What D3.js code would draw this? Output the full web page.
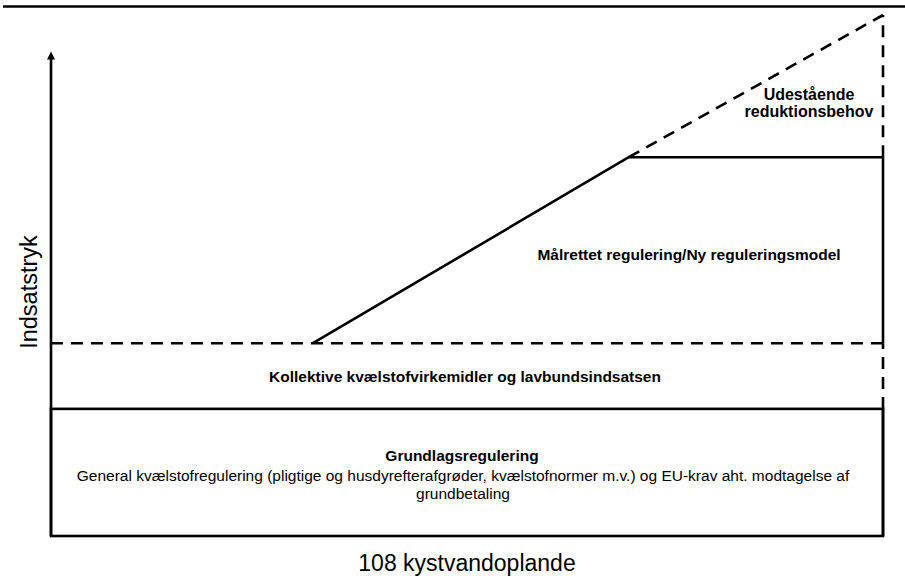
<!DOCTYPE html>
<html lang="da">
<head>
<meta charset="utf-8">
<title>Indsatstryk - 108 kystvandoplande</title>
<script src="https://cdn.jsdelivr.net/npm/d3@7"></script>
<style>
  body { margin: 0; background: #fff; }
  text { font-family: "Liberation Sans", Arial, Helvetica, sans-serif; fill: #000; }
  .bold { font-weight: bold; }
</style>
</head>
<body>
<script>
// x: the 108 kystvandoplande, y: indsatstryk (0-100)
var kystX       = [0, 34, 75, 108];
var grundlag    = [24.4, 24.4, 24.4, 24.4];
var kollektiv   = [37, 37, 37, 37];
var maalrettet  = [null, 37, 72.7, 72.7];
var udestaaende = [null, null, 72.7, 100];
var axisTop = 93;

var xTitle = "108 kystvandoplande";
var yTitle = "Indsatstryk";
var udestaaendeLabel = ["Udestående", "reduktionsbehov"];
var maalrettetLabel = "Målrettet regulering/Ny reguleringsmodel";
var kollektivLabel = "Kollektive kvælstofvirkemidler og lavbundsindsatsen";
var grundlagTitle = "Grundlagsregulering";
var grundlagText = [
  "General kvælstofregulering (pligtige og husdyrefterafgrøder, kvælstofnormer m.v.) og EU-krav aht. modtagelse af",
  "grundbetaling"
];

var width = 905, height = 588;
var lw = 2.6;          // line width
var dash = "12,8";

var svg = d3.select("body").append("svg")
    .attr("width", width)
    .attr("height", height);

var x = d3.scaleLinear().domain([0, 108]).range([51, 883]);
var y = d3.scaleLinear().domain([0, 100]).range([536, 15]);

// page rule at the top
svg.append("line")
    .attr("x1", 3).attr("x2", width)
    .attr("y1", 6.5).attr("y2", 6.5)
    .attr("stroke", "#000").attr("stroke-width", 2.5);

function pts(vals) {
  return kystX.map(function(d, i) { return [d, vals[i]]; });
}
var line = d3.line()
    .defined(function(d) { return d[1] != null; })
    .x(function(d) { return x(d[0]); })
    .y(function(d) { return y(d[1]); });

// grundlagsregulering box
svg.append("rect")
    .attr("x", x(0))
    .attr("y", y(grundlag[0]))
    .attr("width", x(108) - x(0))
    .attr("height", y(0) - y(grundlag[0]))
    .attr("fill", "none")
    .attr("stroke", "#000")
    .attr("stroke-width", lw);

// kollektive (dashed)
svg.append("path")
    .attr("d", line(pts(kollektiv)))
    .attr("fill", "none").attr("stroke", "#000")
    .attr("stroke-width", lw).attr("stroke-dasharray", dash);

// maalrettet (solid)
svg.append("path")
    .attr("d", line(pts(maalrettet)))
    .attr("fill", "none").attr("stroke", "#000")
    .attr("stroke-width", lw).attr("stroke-linejoin", "round");

// udestaaende (dashed)
svg.append("path")
    .attr("d", line(pts(udestaaende)))
    .attr("fill", "none").attr("stroke", "#000")
    .attr("stroke-width", lw).attr("stroke-dasharray", dash);

// right edge: solid / dashed segments between the levels
var last = kystX.length - 1;
var edge = [0, grundlag[last], kollektiv[last], maalrettet[last], udestaaende[last]];
for (var i = 0; i < edge.length - 1; i++) {
  svg.append("line")
      .attr("x1", x(108)).attr("x2", x(108))
      .attr("y1", y(edge[i])).attr("y2", y(edge[i + 1]))
      .attr("stroke", "#000")
      .attr("stroke-width", lw)
      .attr("stroke-dasharray", i % 2 ? dash : null);
}

// y axis with arrow
svg.append("line")
    .attr("x1", x(0)).attr("x2", x(0))
    .attr("y1", y(0)).attr("y2", y(axisTop) + 6)
    .attr("stroke", "#000").attr("stroke-width", lw);
svg.append("path")
    .attr("d", "M" + (x(0) - 4) + "," + (y(axisTop) + 8) +
               "L" + x(0) + "," + y(axisTop) +
               "L" + (x(0) + 4) + "," + (y(axisTop) + 8) + "Z")
    .attr("fill", "#000");

// axis titles
svg.append("text")
    .attr("transform", "translate(29,292) rotate(-90)")
    .attr("text-anchor", "middle")
    .attr("dominant-baseline", "central")
    .style("font-size", "23.5px")
    .text(yTitle);

svg.append("text")
    .attr("x", x(54)).attr("y", 571)
    .attr("text-anchor", "middle")
    .style("font-size", "23px")
    .text(xTitle);

// area labels
svg.selectAll(".ude")
    .data(udestaaendeLabel)
    .enter().append("text")
    .attr("class", "bold")
    .attr("x", 809)
    .attr("y", function(d, i) { return 100 + i * 17; })
    .attr("text-anchor", "middle")
    .style("font-size", "16px")
    .text(function(d) { return d; });

svg.append("text")
    .attr("class", "bold")
    .attr("x", 689).attr("y", 260)
    .attr("text-anchor", "middle")
    .style("font-size", "15.5px")
    .text(maalrettetLabel);

svg.append("text")
    .attr("class", "bold")
    .attr("x", 465).attr("y", 382)
    .attr("text-anchor", "middle")
    .style("font-size", "15.5px")
    .text(kollektivLabel);

svg.append("text")
    .attr("class", "bold")
    .attr("x", 462).attr("y", 461)
    .attr("text-anchor", "middle")
    .style("font-size", "15.5px")
    .text(grundlagTitle);

svg.selectAll(".grund")
    .data(grundlagText)
    .enter().append("text")
    .attr("x", 463)
    .attr("y", function(d, i) { return 481 + i * 17.5; })
    .attr("text-anchor", "middle")
    .style("font-size", "15.5px")
    .text(function(d) { return d; });
</script>
</body>
</html>
